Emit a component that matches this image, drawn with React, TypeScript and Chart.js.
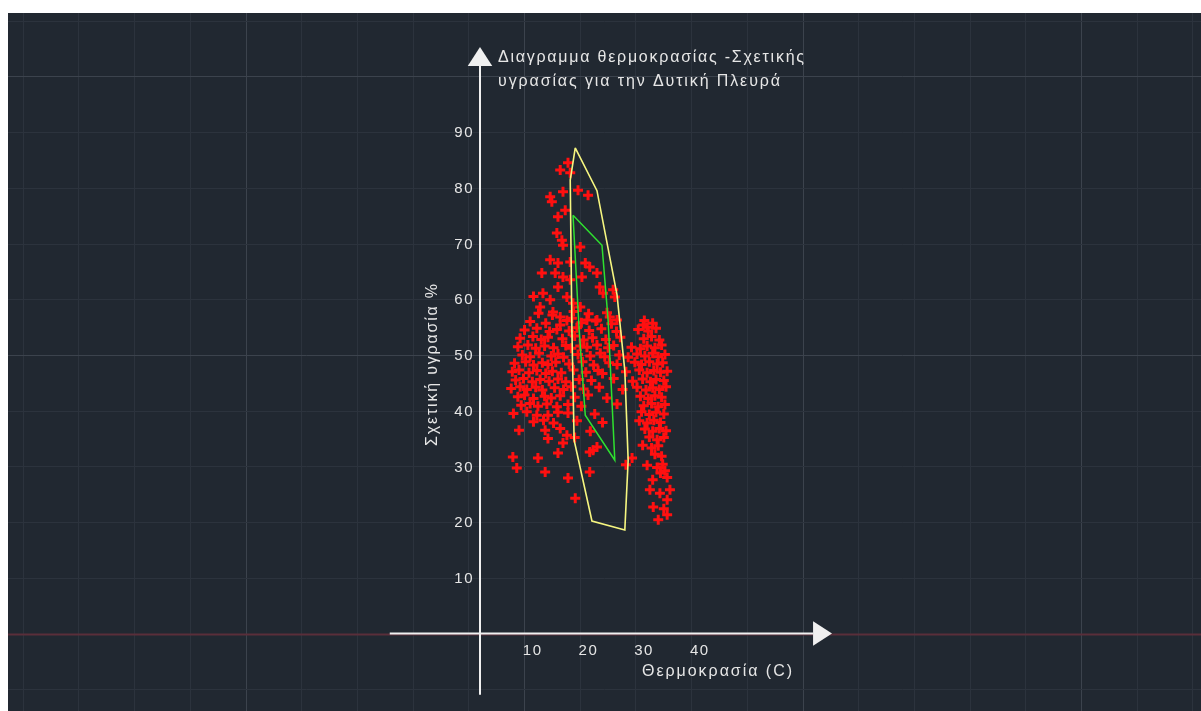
import React, { useEffect, useRef } from "react";
import { Chart, registerables } from "chart.js";

Chart.register(...registerables);

// ---------- data (temperature °C, relative humidity %) ----------
const readings: [number, number][] = [
  // upper sparse part
  [15.8, 84.5], [14.4, 83.2], [16.2, 82.7], [12.6, 78.4], [12.9, 77.5], [14.9, 79.3], [17.6, 79.6], [19.4, 78.7],
  [14.0, 74.8], [15.3, 76.0], [13.8, 71.9], [14.7, 70.6], [14.9, 69.7], [18.0, 69.4], [12.6, 67.1], [14.0, 66.5],
  [16.2, 66.7], [18.9, 66.5], [19.7, 65.8], [21.0, 64.7], [11.1, 64.7], [13.5, 64.7], [14.9, 64.0], [16.2, 63.5],
  [18.3, 64.0], [14.0, 62.2], [11.3, 61.1], [12.6, 59.9], [15.6, 60.4], [16.7, 59.3], [18.0, 58.6], [21.5, 62.2],
  [22.1, 61.1], [23.9, 61.7], [24.2, 60.4], [10.8, 58.6], [13.1, 57.7], [14.4, 56.8], [16.5, 56.6], [19.2, 56.3],
  [21.0, 56.3], [23.3, 56.8], [24.6, 56.3], [14.4, 55.4], [30.0, 55.0], [29.3, 55.4], [9.6, 60.5],
  // dense core
  [10.5, 57.5], [13.0, 57.2], [16.8, 57.8], [19.5, 57.4], [22.8, 57.6],
  [9.0, 56.0], [11.8, 55.7], [15.6, 56.2], [18.2, 55.8], [20.8, 56.1], [23.6, 55.6], [29.5, 56.2], [31.0, 55.7],
  [8.0, 54.5], [10.2, 54.8], [12.5, 54.2], [13.8, 54.6], [16.0, 54.3], [17.4, 54.9], [19.6, 54.4], [21.8, 54.7],
  [24.5, 54.2], [28.4, 54.6], [30.2, 54.3], [31.6, 54.8],
  [7.2, 53.0], [9.5, 53.3], [11.0, 52.8], [12.2, 53.2], [14.8, 52.9], [17.0, 53.4], [18.6, 52.7], [20.2, 53.1],
  [22.6, 52.8], [25.2, 53.2], [29.4, 52.9], [30.8, 53.3], [32.2, 52.7],
  [6.8, 51.5], [8.6, 51.8], [10.0, 51.2], [11.6, 51.6], [13.2, 51.3], [15.4, 51.7], [16.4, 51.2], [18.0, 51.6],
  [19.2, 51.4], [21.0, 51.8], [23.0, 51.3], [24.0, 51.7], [27.2, 51.4], [28.8, 51.1], [30.0, 51.6], [31.4, 51.3],
  [32.6, 51.8],
  [7.6, 50.0], [9.0, 49.7], [10.6, 50.3], [12.8, 49.8], [14.0, 50.2], [15.0, 49.6], [17.6, 50.1], [19.8, 49.8],
  [21.6, 50.3], [22.4, 49.7], [25.0, 50.0], [26.6, 49.6], [28.2, 50.2], [29.6, 49.8], [31.0, 50.3], [32.0, 49.7],
  [33.2, 50.1],
  [6.2, 48.5], [8.2, 48.8], [9.6, 48.2], [11.2, 48.6], [12.2, 48.3], [13.6, 48.7], [16.0, 48.4], [18.4, 48.8],
  [20.4, 48.2], [23.2, 48.6], [24.6, 48.3], [27.8, 48.7], [29.0, 48.3], [30.4, 48.8], [31.8, 48.4], [32.8, 48.6],
  [5.8, 47.0], [7.0, 47.3], [8.8, 46.8], [10.2, 47.2], [11.8, 46.7], [13.0, 47.1], [14.6, 46.8], [16.8, 47.3],
  [19.0, 46.9], [21.2, 47.2], [22.0, 46.7], [26.2, 47.0], [28.6, 47.3], [30.0, 46.8], [31.2, 47.2], [32.4, 46.9],
  [33.6, 47.1],
  [6.4, 45.5], [7.8, 45.8], [9.4, 45.2], [10.8, 45.6], [12.4, 45.3], [14.0, 45.7], [15.4, 45.2], [17.8, 45.6],
  [20.0, 45.4], [24.0, 45.8], [27.4, 45.3], [29.2, 45.7], [30.6, 45.2], [31.6, 45.6], [33.0, 45.4],
  [5.6, 44.0], [7.2, 44.3], [8.4, 43.8], [10.0, 44.2], [11.2, 43.7], [13.4, 44.1], [15.0, 43.8], [16.4, 44.3],
  [18.6, 43.9], [21.4, 44.2], [25.6, 43.8], [28.2, 44.2], [29.8, 43.7], [31.0, 44.1], [32.2, 43.8], [33.4, 44.3],
  [6.8, 42.5], [8.0, 42.8], [9.6, 42.2], [11.6, 42.6], [12.8, 42.3], [14.4, 42.7], [17.0, 42.4], [19.4, 42.8],
  [22.8, 42.3], [28.8, 42.6], [30.2, 42.2], [31.4, 42.7], [32.6, 42.4],
  [7.4, 41.0], [9.0, 41.3], [10.4, 40.8], [12.0, 41.2], [13.8, 40.7], [15.8, 41.1], [18.2, 40.8], [24.6, 41.2],
  [29.4, 40.9], [30.8, 41.3], [32.0, 40.7], [33.2, 41.1],
  // lower part
  [6.0, 39.5], [8.4, 39.8], [10.2, 39.2], [12.2, 39.2], [14.0, 39.7], [15.8, 39.6], [20.6, 39.4], [29.0, 39.8],
  [30.4, 39.3], [31.6, 39.7], [33.0, 39.4],
  [9.6, 38.0], [11.4, 38.3], [13.2, 37.8], [17.4, 38.2], [22.0, 37.9], [28.6, 38.2], [30.0, 37.8], [31.2, 38.3],
  [32.4, 37.9],
  [7.0, 36.5], [11.7, 36.5], [14.4, 36.8], [19.8, 36.3], [29.6, 36.7], [31.0, 36.3], [32.2, 36.8], [33.4, 36.4],
  [12.2, 35.0], [15.6, 35.6], [17.0, 35.2], [30.4, 35.3], [31.8, 34.8], [33.0, 35.2],
  [14.9, 34.2], [21.0, 33.5], [29.2, 33.8], [30.8, 33.3], [32.0, 33.7],
  [5.9, 31.7], [10.4, 31.5], [14.0, 32.4], [19.7, 32.6], [20.3, 32.9], [27.3, 31.5], [31.4, 32.2], [32.6, 31.8],
  [6.6, 29.7], [26.2, 30.3], [30.0, 30.2], [31.8, 29.8], [32.8, 30.4],
  [11.7, 29.0], [19.7, 29.0], [32.4, 28.8], [33.2, 29.2],
  [15.8, 27.9], [31.0, 27.6], [33.6, 28.0],
  [30.5, 25.8], [32.3, 25.2], [34.1, 25.8],
  [17.1, 24.3], [33.6, 24.0],
  [31.1, 22.7], [33.0, 22.4],
  [32.0, 20.4], [33.6, 21.3],
];

// comfort zone outlines (temperature, humidity)
const outerZone: [number, number][] = [
  [17.1, 87.2], [21.0, 79.5], [24.6, 60.8], [26.0, 47.2], [26.6, 31.1], [26.0, 18.6],
  [20.1, 20.2], [16.9, 34.7], [16.5, 54.5], [16.2, 81.4], [17.1, 87.2],
];
const innerZone: [number, number][] = [
  [16.7, 75.1], [21.9, 69.7], [23.0, 56.3], [24.2, 31.1], [18.9, 39.2], [17.8, 54.5], [16.7, 75.1],
];

const xTickValues = [10, 20, 30, 40];
const yTickValues = [10, 20, 30, 40, 50, 60, 70, 80, 90];
const titleLines = ["Διαγραμμα θερμοκρασίας -Σχετικής", "υγρασίας για την Δυτική Πλευρά"];
const xAxisTitle = "Θερμοκρασία (C)";
const yAxisTitle = "Σχετική υγρασία %";

// ---------- layout / style ----------
const CANVAS_W = 1193;
const CANVAS_H = 698;
const PX_PER_UNIT = 5.57;
const ORIGIN_X = 472;
const ORIGIN_Y = 620.5;
const X_MIN = -ORIGIN_X / PX_PER_UNIT;
const X_MAX = X_MIN + CANVAS_W / PX_PER_UNIT;
const Y_MAX = ORIGIN_Y / PX_PER_UNIT;
const Y_MIN = Y_MAX - CANVAS_H / PX_PER_UNIT;

const GRID_STEP = 10;
const GRID_X_OFFSET = 7.9;
const MAJOR_EVERY = 5;

const AXIS_X_FROM = -16.2;
const AXIS_X_TIP = 63.2;
const AXIS_Y_FROM = -11.0;
const AXIS_Y_TIP = 105.3;
const ARROW_LEN = 3.4;
const ARROW_HALF = 2.2;

const BG = "#212831";
const GRID_MINOR = "#2c333d";
const GRID_MAJOR = "#3c434d";
const GRID_RED = "#5a2e3a";
const AXIS_COLOR = "#f0f0f0";
const TEXT_COLOR = "#e6e6e6";
const FONT = '"Liberation Sans", Arial, sans-serif';

function fitText(ctx: CanvasRenderingContext2D, text: string, width: number) {
  (ctx as any).letterSpacing = "0px";
  const w = ctx.measureText(text).width;
  const n = Array.from(text).length;
  const ls = n > 1 ? (width - w) / (n - 1) : 0;
  (ctx as any).letterSpacing = `${ls}px`;
}

const cadPlugin = {
  id: "cadBackdrop",
  beforeDraw(chart: any) {
    const { ctx, width, height } = chart;
    const xs = chart.scales.x;
    const ys = chart.scales.y;
    ctx.save();
    ctx.fillStyle = BG;
    ctx.fillRect(0, 0, width, height);
    ctx.lineWidth = 1;
    // vertical grid
    const kx0 = Math.ceil((X_MIN - GRID_X_OFFSET) / GRID_STEP);
    const kx1 = Math.floor((X_MAX - GRID_X_OFFSET) / GRID_STEP);
    for (let k = kx0; k <= kx1; k++) {
      const px = Math.round(xs.getPixelForValue(GRID_X_OFFSET + k * GRID_STEP)) + 0.5;
      ctx.strokeStyle = k % MAJOR_EVERY === 0 ? GRID_MAJOR : GRID_MINOR;
      ctx.beginPath();
      ctx.moveTo(px, 0);
      ctx.lineTo(px, height);
      ctx.stroke();
    }
    // horizontal grid
    const ky0 = Math.ceil(Y_MIN / GRID_STEP);
    const ky1 = Math.floor(Y_MAX / GRID_STEP);
    for (let k = ky0; k <= ky1; k++) {
      const py = Math.round(ys.getPixelForValue(k * GRID_STEP)) + 0.5;
      ctx.strokeStyle = k === 0 ? GRID_RED : k % MAJOR_EVERY === 0 ? GRID_MAJOR : GRID_MINOR;
      ctx.lineWidth = k === 0 ? 2 : 1;
      ctx.beginPath();
      ctx.moveTo(0, py);
      ctx.lineTo(width, py);
      ctx.stroke();
    }
    ctx.lineWidth = 1;

    // axes
    const ox = xs.getPixelForValue(0);
    const oy = ys.getPixelForValue(0);
    ctx.strokeStyle = AXIS_COLOR;
    ctx.fillStyle = AXIS_COLOR;
    ctx.lineWidth = 2;
    ctx.beginPath();
    ctx.moveTo(xs.getPixelForValue(AXIS_X_FROM), oy);
    ctx.lineTo(xs.getPixelForValue(AXIS_X_TIP - ARROW_LEN), oy);
    ctx.moveTo(ox, ys.getPixelForValue(AXIS_Y_FROM));
    ctx.lineTo(ox, ys.getPixelForValue(AXIS_Y_TIP - ARROW_LEN));
    ctx.stroke();
    // x arrow
    const half = ARROW_HALF * PX_PER_UNIT;
    ctx.beginPath();
    ctx.moveTo(xs.getPixelForValue(AXIS_X_TIP), oy);
    ctx.lineTo(xs.getPixelForValue(AXIS_X_TIP - ARROW_LEN), oy - half);
    ctx.lineTo(xs.getPixelForValue(AXIS_X_TIP - ARROW_LEN), oy + half);
    ctx.closePath();
    ctx.fill();
    // y arrow
    ctx.beginPath();
    ctx.moveTo(ox, ys.getPixelForValue(AXIS_Y_TIP));
    ctx.lineTo(ox - half, ys.getPixelForValue(AXIS_Y_TIP - ARROW_LEN));
    ctx.lineTo(ox + half, ys.getPixelForValue(AXIS_Y_TIP - ARROW_LEN));
    ctx.closePath();
    ctx.fill();
    ctx.restore();
  },
  afterDraw(chart: any) {
    const { ctx } = chart;
    const xs = chart.scales.x;
    const ys = chart.scales.y;
    const ox = xs.getPixelForValue(0);
    const oy = ys.getPixelForValue(0);
    ctx.save();
    ctx.fillStyle = TEXT_COLOR;

    // tick labels
    ctx.font = `15px ${FONT}`;
    (ctx as any).letterSpacing = "1.5px";
    ctx.textBaseline = "middle";
    ctx.textAlign = "right";
    yTickValues.forEach((v) => {
      ctx.fillText(String(v), ox - 6, ys.getPixelForValue(v) + 1);
    });
    ctx.textAlign = "center";
    xTickValues.forEach((v) => {
      ctx.fillText(String(v), xs.getPixelForValue(v) - 3, oy + 17);
    });

    // chart title
    ctx.textAlign = "left";
    ctx.textBaseline = "alphabetic";
    ctx.font = `16px ${FONT}`;
    const tipY = ys.getPixelForValue(AXIS_Y_TIP);
    fitText(ctx, titleLines[0], 306);
    ctx.fillText(titleLines[0], ox + 18, tipY + 15);
    fitText(ctx, titleLines[1], 282);
    ctx.fillText(titleLines[1], ox + 18, tipY + 39);

    // x axis title
    ctx.textBaseline = "middle";
    fitText(ctx, xAxisTitle, 150);
    ctx.fillText(xAxisTitle, ox + 162, oy + 38.5);

    // y axis title
    ctx.translate(ox - 47, oy - 269.5);
    ctx.rotate(-Math.PI / 2);
    ctx.textAlign = "center";
    fitText(ctx, yAxisTitle, 162);
    ctx.fillText(yAxisTitle, 0, 0);
    ctx.restore();
  },
};

export default function App() {
  const canvasRef = useRef<HTMLCanvasElement | null>(null);

  useEffect(() => {
    if (!canvasRef.current) return;
    const toPts = (arr: [number, number][]) => arr.map(([x, y]) => ({ x, y }));
    const chart = new Chart(canvasRef.current, {
      type: "scatter",
      data: {
        datasets: [
          {
            label: "outer",
            data: toPts(outerZone),
            showLine: true,
            borderColor: "#f6f680",
            backgroundColor: "#f6f680",
            borderWidth: 1.6,
            pointRadius: 0,
            fill: false,
            order: 0,
          } as any,
          {
            label: "inner",
            data: toPts(innerZone),
            showLine: true,
            borderColor: "#2fe02f",
            backgroundColor: "#2fe02f",
            borderWidth: 1.5,
            pointRadius: 0,
            fill: false,
            order: 1,
          } as any,
          {
            label: "readings",
            data: toPts(readings),
            pointStyle: "cross",
            pointRadius: 5,
            borderWidth: 3,
            borderColor: "#ff1010",
            backgroundColor: "#ff1010",
            showLine: false,
            order: 2,
          } as any,
        ],
      },
      options: {
        responsive: false,
        animation: false,
        events: [],
        layout: { padding: 0, autoPadding: false },
        plugins: { legend: { display: false }, tooltip: { enabled: false } },
        scales: {
          x: { type: "linear", display: false, min: X_MIN, max: X_MAX },
          y: { type: "linear", display: false, min: Y_MIN, max: Y_MAX },
        },
      },
      plugins: [cadPlugin as any],
    });
    return () => chart.destroy();
  }, []);

  return (
    <div style={{ position: "absolute", left: 8, top: 13, width: CANVAS_W, height: CANVAS_H }}>
      <canvas
        ref={canvasRef}
        width={CANVAS_W}
        height={CANVAS_H}
        style={{ display: "block", width: CANVAS_W, height: CANVAS_H }}
      />
    </div>
  );
}
